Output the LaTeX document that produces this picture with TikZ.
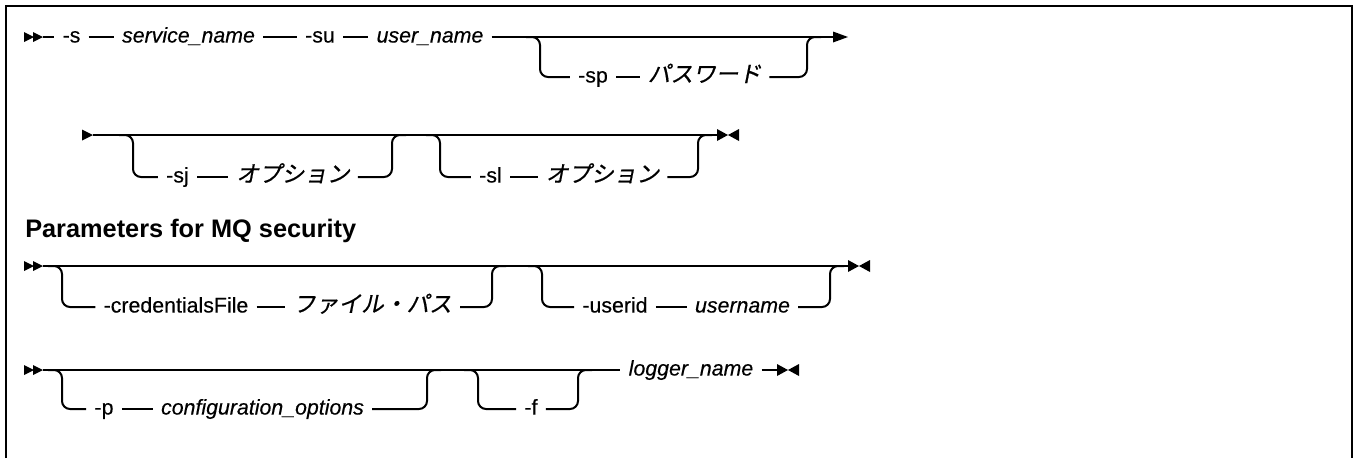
\documentclass[tikz,border=0pt]{standalone}
\usepackage{fontspec}
\setmainfont{Liberation Sans}
\newfontfamily\dgtext{Liberation Sans}[FakeBold=0.3]
\newfontfamily\jpit[FakeSlant=0.2,FakeBold=0.6]{Noto Sans CJK JP}
\newcommand\dgfs{\fontsize{16}{19}\selectfont}
\newcommand\dgjp{\fontsize{17}{20}\selectfont}
\begin{document}
\begin{tikzpicture}[x=0.75pt,y=0.75pt,
  rr/.style={line width=1.5pt},
  br/.style={line width=1.5pt,rounded corners=6pt},
  kw/.style={anchor=center,inner xsep=6pt,inner ysep=0pt,text height=8.3pt,text depth=0pt,font=\dgtext\dgfs},
  var/.style={kw,font=\dgtext\dgfs\itshape},
  jp/.style={kw,text height=7.6pt,font=\jpit\dgjp},
  dblstart/.pic={\fill (0,-5) -- (10,0) -- (0,5) -- cycle; \fill (9,-5) -- (19,0) -- (9,5) -- cycle;},
  onestart/.pic={\fill (0,-5.5) -- (11,0) -- (0,5.5) -- cycle;},
  endarrow/.pic={\fill (0,-5.5) -- (15,0) -- (0,5.5) -- cycle;},
  bowtie/.pic={\fill (0,-6) -- (11,0) -- (0,6) -- cycle; \fill (22,-6) -- (11,0) -- (22,6) -- cycle;}
]
\useasboundingbox (0,0) rectangle (1354,-458);
\draw[line width=2pt] (6,-458) -- (6,-6) -- (1352,-6) -- (1352,-458);

% ---------- Row 1 ----------
\pic at (24,-37) {dblstart};
\coordinate (r1a) at (43,-37);
\node[kw]  (n1s)   at (71.5,-37) {-s};
\node[var] (n1svc) at (188.5,-37) {service\_name};
\node[kw]  (n1su)  at (320,-37) {-su};
\node[var] (n1usr) at (430,-37) {user\_name};
\node[kw]  (n1sp)  at (593,-77) {-sp};
\node[jp]  (n1pw)  at (704.5,-77) {パスワード};
\coordinate (r1e) at (833,-37);
\draw[rr] (r1a) -- (n1s.west);
\draw[rr] (n1s.east) -- (n1svc.west);
\draw[rr] (n1svc.east) -- (n1su.west);
\draw[rr] (n1su.east) -- (n1usr.west);
\draw[rr] (n1usr.east) -- (r1e);
\pic at (r1e) {endarrow};
\coordinate (b1a) at (526,-37); \coordinate (b1b) at (540,-37); \coordinate (b1c) at (540,-77);
\coordinate (b1d) at (807,-77); \coordinate (b1e) at (807,-37); \coordinate (b1f) at (821,-37);
\draw[br] (b1a) -- (b1b) -- (b1c) -- (n1sp.west);
\draw[rr] (n1sp.east) -- (n1pw.west);
\draw[br] (n1pw.east) -- (b1d) -- (b1e) -- (b1f);

% ---------- Row 2 ----------
\pic at (82,-135) {onestart};
\coordinate (r2a) at (93,-135);
\coordinate (r2e) at (717,-135);
\draw[rr] (r2a) -- (r2e);
\pic at (r2e) {bowtie};
\node[kw] (n2sj) at (177.5,-177) {-sj};
\node[jp] (n2o1) at (293,-177) {オプション};
\node[kw] (n2sl) at (490.5,-177) {-sl};
\node[jp] (n2o2) at (602.5,-177) {オプション};
\coordinate (b2a) at (119,-135); \coordinate (b2b) at (133,-135); \coordinate (b2c) at (133,-177);
\coordinate (b2d) at (392,-177); \coordinate (b2e) at (392,-135); \coordinate (b2f) at (406,-135);
\draw[br] (b2a) -- (b2b) -- (b2c) -- (n2sj.west);
\draw[rr] (n2sj.east) -- (n2o1.west);
\draw[br] (n2o1.east) -- (b2d) -- (b2e) -- (b2f);
\coordinate (b3a) at (426,-135); \coordinate (b3b) at (440,-135); \coordinate (b3c) at (440,-177);
\coordinate (b3d) at (698,-177); \coordinate (b3e) at (698,-135); \coordinate (b3f) at (712,-135);
\draw[br] (b3a) -- (b3b) -- (b3c) -- (n2sl.west);
\draw[rr] (n2sl.east) -- (n2o2.west);
\draw[br] (n2o2.east) -- (b3d) -- (b3e) -- (b3f);

% ---------- Heading ----------
\node[anchor=base west,inner sep=0pt,font=\fontsize{19}{22}\selectfont\bfseries] (head) at (25,-237) {Parameters for MQ security};

% ---------- Row 3 ----------
\pic at (24,-266) {dblstart};
\coordinate (r3a) at (43,-266);
\coordinate (r3e) at (848,-266);
\draw[rr] (r3a) -- (r3e);
\pic at (r3e) {bowtie};
\node[kw]  (n3cf)  at (176,-307) {-credentialsFile};
\node[jp]  (n3fp)  at (372.5,-307) {ファイル・パス};
\node[kw]  (n3uid) at (615,-307) {-userid};
\node[var] (n3un)  at (742.5,-307) {username};
\coordinate (b4a) at (48,-266); \coordinate (b4b) at (62,-266); \coordinate (b4c) at (62,-307);
\coordinate (b4d) at (492,-307); \coordinate (b4e) at (492,-266); \coordinate (b4f) at (506,-266);
\draw[br] (b4a) -- (b4b) -- (b4c) -- (n3cf.west);
\draw[rr] (n3cf.east) -- (n3fp.west);
\draw[br] (n3fp.east) -- (b4d) -- (b4e) -- (b4f);
\coordinate (b5a) at (528,-266); \coordinate (b5b) at (542,-266); \coordinate (b5c) at (542,-307);
\coordinate (b5d) at (830,-307); \coordinate (b5e) at (830,-266); \coordinate (b5f) at (844,-266);
\draw[br] (b5a) -- (b5b) -- (b5c) -- (n3uid.west);
\draw[rr] (n3uid.east) -- (n3un.west);
\draw[br] (n3un.east) -- (b5d) -- (b5e) -- (b5f);

% ---------- Row 4 ----------
\pic at (24,-370) {dblstart};
\coordinate (r4a) at (43,-370);
\node[kw]  (n4p)   at (104,-409) {-p};
\node[var] (n4co)  at (262.5,-409) {configuration\_options};
\node[kw]  (n4f)   at (531,-409) {-f};
\node[var] (n4log) at (691,-370) {logger\_name};
\coordinate (r4e) at (777,-370);
\draw[rr] (r4a) -- (n4log.west);
\draw[rr] (n4log.east) -- (r4e);
\pic at (r4e) {bowtie};
\coordinate (b6a) at (48,-370); \coordinate (b6b) at (62,-370); \coordinate (b6c) at (62,-409);
\coordinate (b6d) at (427,-409); \coordinate (b6e) at (427,-370); \coordinate (b6f) at (441,-370);
\draw[br] (b6a) -- (b6b) -- (b6c) -- (n4p.west);
\draw[rr] (n4p.east) -- (n4co.west);
\draw[br] (n4co.east) -- (b6d) -- (b6e) -- (b6f);
\coordinate (b7a) at (464,-370); \coordinate (b7b) at (478,-370); \coordinate (b7c) at (478,-409);
\coordinate (b7d) at (578,-409); \coordinate (b7e) at (578,-370); \coordinate (b7f) at (592,-370);
\draw[br] (b7a) -- (b7b) -- (b7c) -- (n4f.west);
\draw[br] (n4f.east) -- (b7d) -- (b7e) -- (b7f);
\end{tikzpicture}
\end{document}
